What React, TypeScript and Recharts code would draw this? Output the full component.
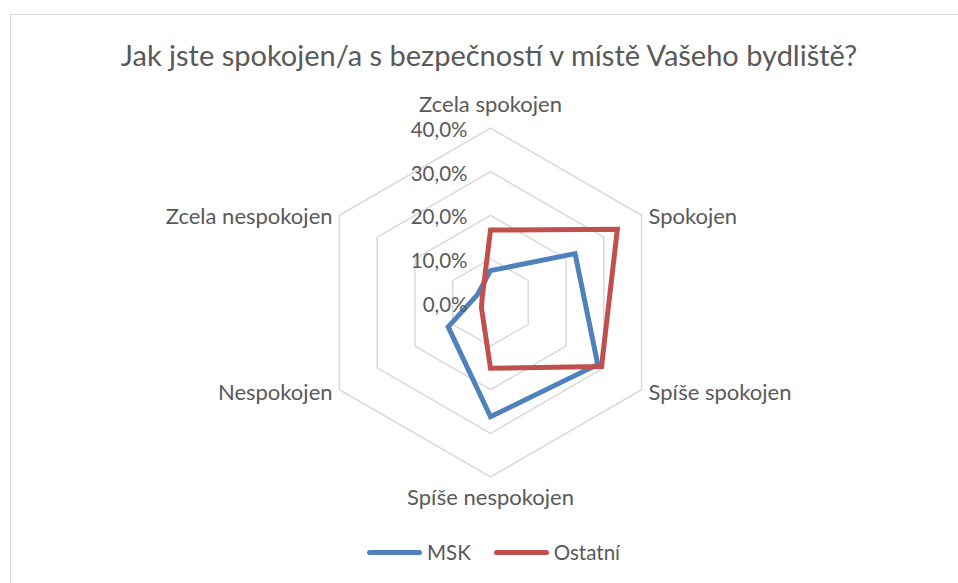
import React from 'react'
import {
  RadarChart, Radar, PolarGrid, PolarAngleAxis, PolarRadiusAxis, Legend,
} from 'recharts'

const TITLE = 'Jak jste spokojen/a s bezpečností v místě Vašeho bydliště?'
const categories = ['Zcela spokojen', 'Spokojen', 'Spíše spokojen', 'Spíše nespokojen', 'Nespokojen', 'Zcela nespokojen']
const msk = [7.3, 22.4, 28.4, 26.2, 11.2, 3.5]
const ostatni = [16.6, 33.6, 29.4, 15.1, 2.4, 2.2]
const radiusTicks = [0, 10, 20, 30, 40]

const SERIES = [
  { key: 'msk', name: 'MSK', color: '#4F81BD' },
  { key: 'ostatni', name: 'Ostatní', color: '#C0504D' },
]

const data = categories.map((c, i) => ({ category: c, msk: msk[i], ostatni: ostatni[i] }))

const W = 958
const H = 583
const CX = 490.5
const CY = 302.5
const R = 174.4
const FONT = 'Lato, "Open Sans", sans-serif'
const TEXT = '#595959'

function fmtPct(v: number) {
  return v.toFixed(1).replace('.', ',') + '%'
}

function AngleTick(props: any) {
  const { x, y, payload, textAnchor } = props
  let dy = 0
  if (y < CY - R) dy = -17
  else if (y > CY + R) dy = 12
  else if (y < CY) dy = 4
  else dy = -2
  return (
    <text x={x} y={y + dy} textAnchor={textAnchor} dominantBaseline="central"
      fill={TEXT} fontSize={22} fontFamily={FONT}>
      {payload.value}
    </text>
  )
}

function RadiusTick(props: any) {
  const { x, y, payload } = props
  return (
    <text x={x - 23} y={y + 1} textAnchor="end" dominantBaseline="central"
      fill={TEXT} fontSize={20.5} fontFamily={FONT}>
      {fmtPct(payload.value)}
    </text>
  )
}

function LegendContent() {
  return (
    <div style={{
      display: 'flex', justifyContent: 'center', gap: 23, paddingLeft: 29,
      fontFamily: FONT, fontSize: 20.5, color: TEXT,
    }}>
      {SERIES.map(s => (
        <div key={s.key} style={{ display: 'flex', alignItems: 'center', gap: 5 }}>
          <div style={{ width: 55, height: 5, borderRadius: 3, background: s.color }} />
          <span>{s.name}</span>
        </div>
      ))}
    </div>
  )
}

export default function App() {
  return (
    <div style={{ position: 'absolute', left: 0, top: 0, width: W, height: H, background: '#fff', overflow: 'hidden' }}>
      <div style={{
        position: 'absolute', left: 10, top: 14, width: W, height: H,
        border: '1.5px solid #d9d9d9', boxSizing: 'border-box',
      }} />
      <div style={{
        position: 'absolute', left: 0, top: 37, width: W - 20, textAlign: 'center',
        fontFamily: FONT, fontSize: 29, color: TEXT, paddingLeft: 20,
      }}>
        {TITLE}
      </div>
      <div style={{ position: 'absolute', left: 0, top: 0 }}>
        <RadarChart width={W} height={H} data={data} cx={CX} cy={CY} outerRadius={R}
          margin={{ top: 0, right: 0, bottom: 0, left: 0 }}>
          <PolarGrid gridType="polygon" radialLines={false} stroke="#d9d9d9" strokeWidth={1.5} />
          <PolarAngleAxis dataKey="category" tick={AngleTick} tickLine={false} axisLine={false} />
          <PolarRadiusAxis angle={90} domain={[0, 40]} ticks={radiusTicks} tickCount={5}
            tick={RadiusTick} axisLine={false} tickLine={false} />
          {SERIES.map(s => (
            <Radar key={s.key} name={s.name} dataKey={s.key} stroke={s.color} strokeWidth={5}
              fill="none" fillOpacity={0} dot={false} isAnimationActive={false} />
          ))}
          <Legend content={LegendContent} wrapperStyle={{ position: 'absolute', top: 540, left: 0, width: W }} />
        </RadarChart>
      </div>
    </div>
  )
}
